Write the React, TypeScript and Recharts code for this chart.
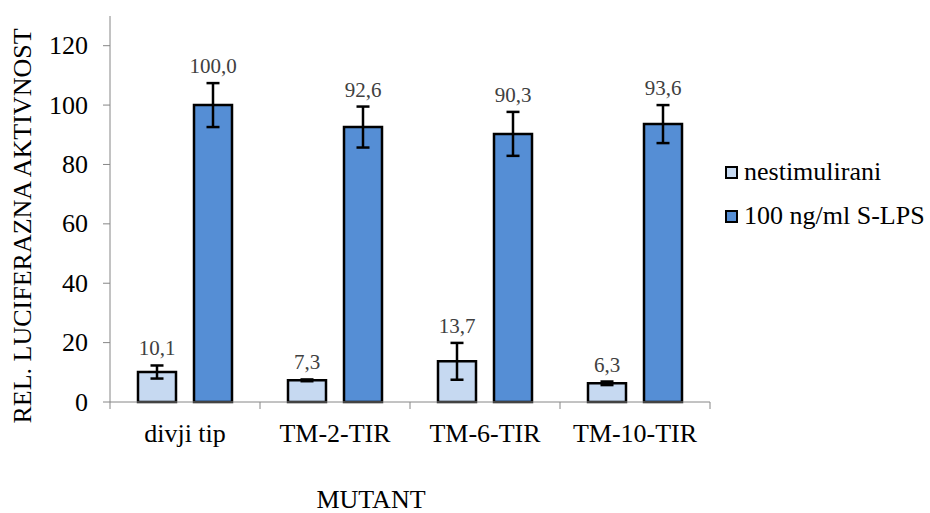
import { BarChart, Bar, XAxis, YAxis, Legend, ErrorBar, LabelList } from 'recharts'

const categories = ['divji tip', 'TM-2-TIR', 'TM-6-TIR', 'TM-10-TIR']
const nestimulirani = [10.1, 7.3, 13.7, 6.3]
const nestimuliraniErr = [2.2, 0.3, 6.2, 0.6]
const stimulirani = [100.0, 92.6, 90.3, 93.6]
const stimuliraniErr = [7.4, 6.9, 7.4, 6.4]
const yTicks = [0, 20, 40, 60, 80, 100, 120]
const seriesNames = ['nestimulirani', '100 ng/ml S-LPS']

const FONT = 'Liberation Serif'
const AXIS_GREY = '#868686'
const LIGHT = '#c6d9f1'
const DARK = '#558ed5'

const data = categories.map((name, i) => ({
  name,
  nest: nestimulirani[i],
  nestErr: nestimuliraniErr[i],
  lps: stimulirani[i],
  lpsErr: stimuliraniErr[i],
}))

// label sits just above the error bar cap
function valueLabel(errs: number[]) {
  return (props: any) => {
    const x = Number(props.x)
    const y = Number(props.y)
    const w = Number(props.width)
    const h = Number(props.height)
    const v = Number(props.value)
    const errPx = v ? (h / v) * errs[props.index] : 0
    return (
      <text
        x={x + w / 2}
        y={y - errPx - 10}
        textAnchor="middle"
        fill="#404040"
        style={{ fontFamily: FONT, fontSize: 21 }}
      >
        {v.toFixed(1).replace('.', ',')}
      </text>
    )
  }
}

function CategoryTick(props: any) {
  const { x, y, payload, index } = props
  const half = payload.offset || 0
  return (
    <g>
      {index === 0 && <line x1={x - half} x2={x - half} y1={y} y2={y + 7} stroke={AXIS_GREY} />}
      <line x1={x + half} x2={x + half} y1={y} y2={y + 7} stroke={AXIS_GREY} />
      <text x={x} y={y + 40} textAnchor="middle" fill="#000" style={{ fontFamily: FONT, fontSize: 26 }}>
        {payload.value}
      </text>
    </g>
  )
}

function ValueTick(props: any) {
  const { x, y, payload } = props
  return (
    <text x={x} y={y} textAnchor="end" dominantBaseline="central" fill="#000" style={{ fontFamily: FONT, fontSize: 26 }}>
      {payload.value}
    </text>
  )
}

function LegendBox(props: any) {
  const items = [...(props.payload || [])].sort(
    (a: any, b: any) => seriesNames.indexOf(a.value) - seriesNames.indexOf(b.value)
  )
  return (
    <div style={{ width: 215, paddingLeft: 15, boxSizing: 'border-box', fontFamily: FONT }}>
      {items.map((it: any) => (
        <div key={it.value} style={{ display: 'flex', alignItems: 'center', height: 44 }}>
          <span
            style={{
              flex: '0 0 13px',
              width: 13,
              height: 13,
              boxSizing: 'border-box',
              border: '2px solid #000',
              background: it.color,
              marginRight: 6,
            }}
          />
          <span style={{ fontSize: 26, color: '#000', whiteSpace: 'nowrap', fontFamily: FONT }}>{it.value}</span>
        </div>
      ))}
    </div>
  )
}

export default function App() {
  return (
    <div style={{ position: 'absolute', left: 0, top: 0, background: '#fff', fontFamily: FONT }}>
      <BarChart
        width={930}
        height={513}
        data={data}
        margin={{ top: 16, right: 5, bottom: 0, left: 0 }}
        barGap={18}
      >
        <XAxis
          dataKey="name"
          height={111}
          axisLine={{ stroke: AXIS_GREY }}
          tickLine={false}
          tickSize={0}
          tickMargin={0}
          interval={0}
          tick={<CategoryTick />}
          label={(p: any) => {
            const vb = p.viewBox
            return (
              <text
                x={vb.x + vb.width / 2 - 39}
                y={vb.y + 106}
                textAnchor="middle"
                fill="#000"
                style={{ fontFamily: FONT, fontSize: 26 }}
              >
                MUTANT
              </text>
            )
          }}
        />
        <YAxis
          width={110}
          domain={[0, 130]}
          ticks={yTicks}
          interval={0}
          axisLine={{ stroke: AXIS_GREY }}
          tickLine={{ stroke: AXIS_GREY }}
          tickSize={7}
          tickMargin={15}
          tick={<ValueTick />}
          label={(p: any) => {
            const vb = p.viewBox
            const cx = vb.x + 22
            const cy = vb.y + vb.height / 2 + 17
            return (
              <text
                x={cx}
                y={cy}
                transform={`rotate(-90, ${cx}, ${cy})`}
                textAnchor="middle"
                dominantBaseline="central"
                fill="#000"
                style={{ fontFamily: FONT, fontSize: 26 }}
              >
                REL. LUCIFERAZNA AKTIVNOST
              </text>
            )
          }}
        />
        <Legend
          layout="vertical"
          align="right"
          verticalAlign="middle"
          content={<LegendBox />}
          wrapperStyle={{ top: 150 }}
        />
        <Bar dataKey="nest" name={seriesNames[0]} fill={LIGHT} stroke="#000" strokeWidth={2.5} barSize={38} isAnimationActive={false}>
          <ErrorBar dataKey="nestErr" width={6.5} stroke="#000" strokeWidth={2.5} />
          <LabelList dataKey="nest" content={valueLabel(nestimuliraniErr)} />
        </Bar>
        <Bar dataKey="lps" name={seriesNames[1]} fill={DARK} stroke="#000" strokeWidth={2.5} barSize={38} isAnimationActive={false}>
          <ErrorBar dataKey="lpsErr" width={6.5} stroke="#000" strokeWidth={2.5} />
          <LabelList dataKey="lps" content={valueLabel(stimuliraniErr)} />
        </Bar>
      </BarChart>
    </div>
  )
}
